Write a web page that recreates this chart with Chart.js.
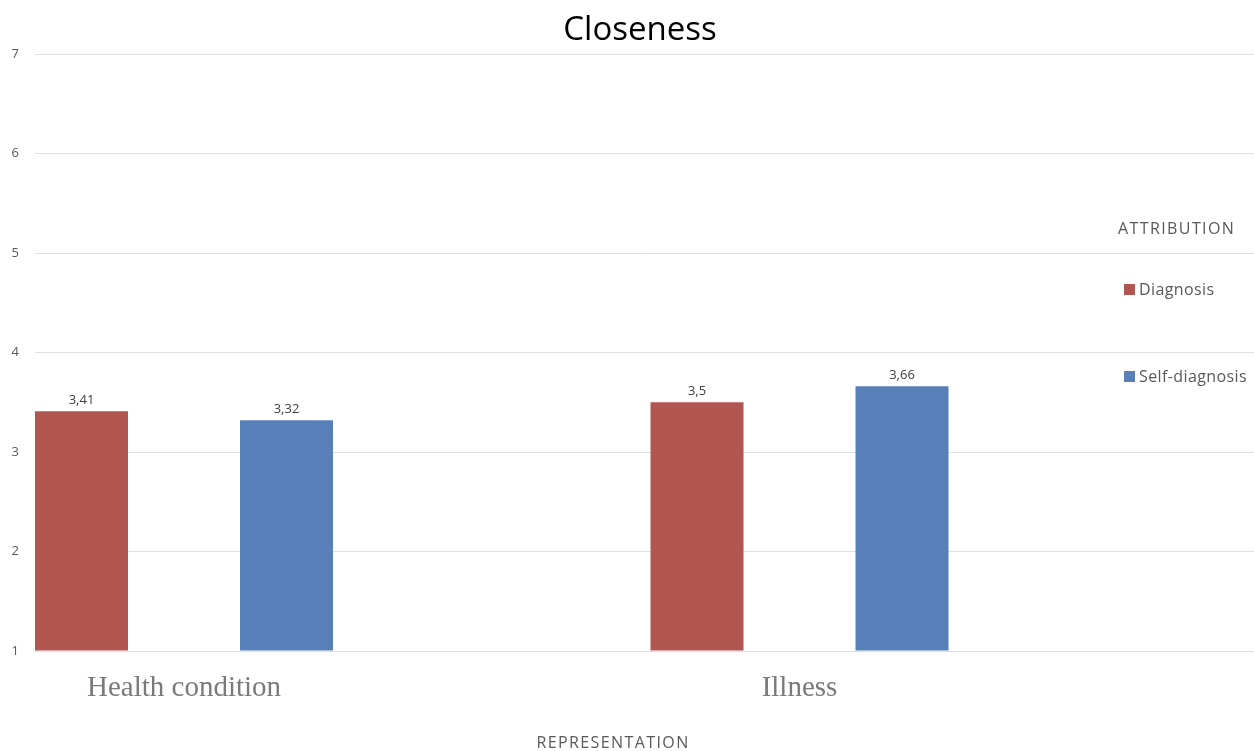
<!DOCTYPE html>
<html>
<head>
<meta charset="utf-8">
<title>Closeness</title>
<script src="https://cdn.jsdelivr.net/npm/chart.js@4/dist/chart.umd.min.js"></script>
<style>
  html, body { margin: 0; padding: 0; background: #ffffff; }
  #wrap { width: 1254px; height: 751px; position: relative; }
</style>
</head>
<body>
<div id="wrap"><canvas id="chart" width="1254" height="751"></canvas></div>
<script>
// Representation categories along the x axis
const categories = ['Health condition', 'Illness'];
// Attribution series
const seriesNames = ['Diagnosis', 'Self-diagnosis'];
const diagnosis = [3.41, 3.5];
const selfDiagnosis = [3.32, 3.66];
// Value axis range
const yMin = 1;
const yMax = 7;

const chartTitle = 'Closeness';
const legendTitle = 'ATTRIBUTION';
const xTitle = 'REPRESENTATION';

const colors = ['#b05550', '#5880b8'];
const uiFont = '"Open Sans", "Liberation Sans", sans-serif';

function toPoints(values) {
  return categories.map((c, i) => ({ x: i, y: values[i] }));
}

// Value labels above each bar, decimal comma
const valueLabels = {
  id: 'valueLabels',
  afterDatasetsDraw(chart) {
    const ctx = chart.ctx;
    ctx.save();
    ctx.font = '13px ' + uiFont;
    ctx.fillStyle = '#404040';
    ctx.textAlign = 'center';
    ctx.textBaseline = 'alphabetic';
    chart.data.datasets.forEach((ds, di) => {
      const meta = chart.getDatasetMeta(di);
      meta.data.forEach((bar, i) => {
        const v = ds.data[i].y;
        ctx.fillText(String(v).replace('.', ','), bar.x, bar.y - 7);
      });
    });
    ctx.restore();
  }
};

// Titles and the legend on the right
const decorations = {
  id: 'decorations',
  afterDraw(chart) {
    const ctx = chart.ctx;
    ctx.save();
    ctx.fillStyle = '#000000';
    ctx.font = '33px ' + uiFont;
    ctx.textAlign = 'center';
    ctx.textBaseline = 'alphabetic';
    ctx.fillText(chartTitle, 640, 40);

    ctx.fillStyle = '#595959';
    ctx.font = '16px ' + uiFont;
    ctx.letterSpacing = '1.4px';
    ctx.textBaseline = 'middle';
    ctx.fillText(xTitle, 613, 743);

    ctx.textAlign = 'left';
    ctx.fillText(legendTitle, 1118, 229);

    ctx.letterSpacing = '0.4px';
    const rows = [290, 377];
    chart.data.datasets.forEach((ds, i) => {
      ctx.fillStyle = ds.backgroundColor;
      ctx.fillRect(1124, rows[i] - 6, 11, 11);
      ctx.fillStyle = '#595959';
      ctx.fillText(ds.label, 1139, rows[i]);
    });
    ctx.restore();
  }
};

function draw() {
  new Chart(document.getElementById('chart'), {
    type: 'bar',
    data: {
      datasets: [
        { label: seriesNames[0], data: toPoints(diagnosis), backgroundColor: colors[0] },
        { label: seriesNames[1], data: toPoints(selfDiagnosis), backgroundColor: colors[1] }
      ]
    },
    options: {
      responsive: false,
      animation: false,
      events: [],
      layout: { padding: { top: 54, left: 0, right: 0, bottom: 0 } },
      datasets: {
        bar: { categoryPercentage: 0.6661, barPercentage: 0.4537, base: yMin, borderWidth: 0 }
      },
      plugins: {
        legend: { display: false },
        title: { display: false },
        tooltip: { enabled: false }
      },
      scales: {
        x: {
          type: 'linear',
          min: -0.2421,
          max: 1.7384,
          offset: false,
          grid: { display: false, offset: false },
          border: { display: false },
          afterBuildTicks(scale) {
            scale.ticks = categories.map((c, i) => ({ value: i }));
          },
          afterFit(scale) { scale.height = 100; },
          ticks: {
            callback: (v) => categories[v],
            autoSkip: false,
            maxRotation: 0,
            padding: 12,
            color: '#7a7a7a',
            font: { family: '"Liberation Serif", "Times New Roman", serif', size: 29 }
          }
        },
        y: {
          min: yMin,
          max: yMax,
          grid: { color: '#e0e0e0', lineWidth: 1, drawTicks: false },
          border: { display: false },
          afterFit(scale) { scale.width = 35; },
          ticks: {
            stepSize: 1,
            padding: 16,
            color: '#595959',
            font: { family: uiFont, size: 13 }
          }
        }
      }
    },
    plugins: [valueLabels, decorations]
  });
}

Promise.all([
  document.fonts.load('16px "Open Sans"'),
  document.fonts.load('29px "Liberation Serif"')
]).then(draw, draw);
</script>
</body>
</html>
